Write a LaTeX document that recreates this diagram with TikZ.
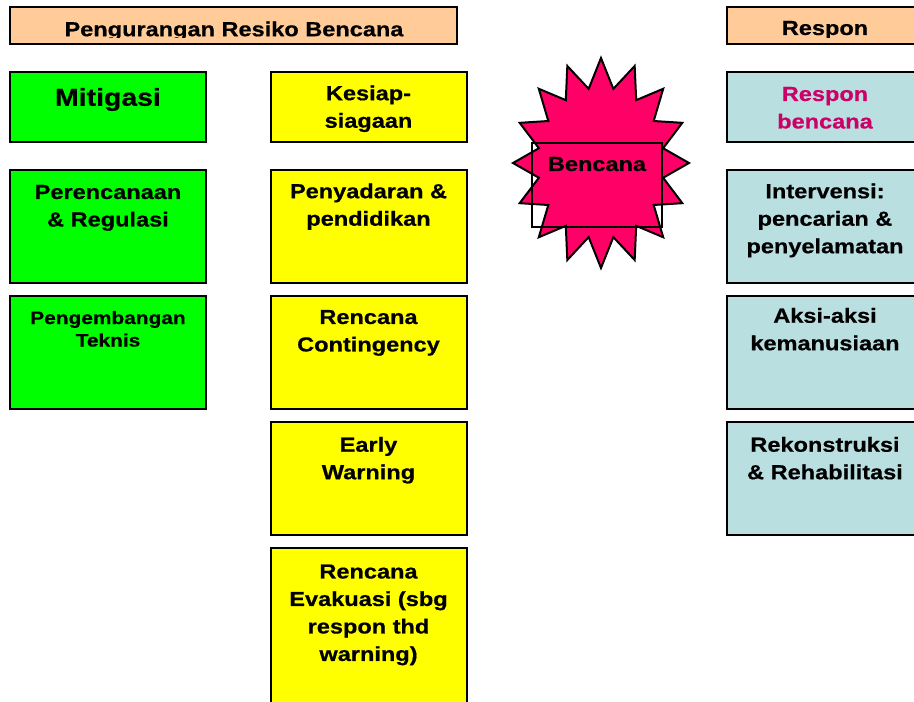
\documentclass[tikz,border=0pt]{standalone}
\usepackage{fontspec}
\setmainfont{Liberation Sans}[FakeStretch=1.16, BoldFeatures={FakeBold=0.6}]
\definecolor{hdrorange}{RGB}{255,204,153}
\definecolor{mitgreen}{RGB}{0,255,0}
\definecolor{prepyellow}{RGB}{255,255,0}
\definecolor{respblue}{RGB}{185,223,225}
\definecolor{bangred}{RGB}{255,0,102}
\definecolor{resptext}{RGB}{204,0,102}
\begin{document}
\begin{tikzpicture}[x=1pt,y=-1pt,
  box/.style={draw=black, line width=2pt, anchor=north west, minimum width=196pt,
    inner sep=0pt, outer sep=0pt},
  hdrbox/.style={box, fill=hdrorange, minimum height=37pt},
  greenbox/.style={box, fill=mitgreen},
  yellowbox/.style={box, fill=prepyellow},
  bluebox/.style={box, fill=respblue},
  lbl/.style={anchor=north, inner sep=0pt, outer sep=0pt, align=center,
    font=\bfseries\fontsize{20.3}{27.5}\selectfont},
  bang/.style={draw=black, line width=2pt, fill=bangred, line join=miter},
]
\useasboundingbox (0,0) rectangle (914,702);
\clip (0,0) rectangle (914,702);

% column headers (text frames clip the descenders)
\node[hdrbox, minimum width=447pt] (hdrL) at (10,7) {};
\node[hdrbox] (hdrR) at (727,7) {};
\begin{scope}
  \clip (10,7) rectangle (457,37.5);
  \node[lbl] (hdrLt) at (234,21.5) {Pengurangan Resiko Bencana};
\end{scope}
\begin{scope}
  \clip (727,7) rectangle (914,37.5);
  \node[lbl] (hdrRt) at (825,21) {Respon};
\end{scope}

% mitigation column
\node[greenbox, minimum height=70pt]  (mit)  at (10,72)  {};
\node[greenbox, minimum height=113pt] (plan) at (10,170) {};
\node[greenbox, minimum height=113pt] (tech) at (10,296) {};
\node[lbl, font=\bfseries\fontsize{24.5}{28}\selectfont] (mitt) at (108,88) {Mitigasi};
\node[lbl] (plant) at (108,185) {Perencanaan\\\& Regulasi};
\node[lbl, font=\bfseries\fontsize{18}{22.5}\selectfont] (techt) at (108,311) {Pengembangan\\Teknis};

% preparedness column
\node[yellowbox, minimum height=70pt]  (prep) at (271,72)  {};
\node[yellowbox, minimum height=113pt] (edu)  at (271,170) {};
\node[yellowbox, minimum height=113pt] (cont) at (271,296) {};
\node[yellowbox, minimum height=113pt] (warn) at (271,422) {};
\node[yellowbox, minimum height=170pt] (evac) at (271,548) {};
\node[lbl] (prept) at (368.5,85.5) {Kesiap-\\siagaan};
\node[lbl] (edut)  at (368.5,183.5) {Penyadaran \&\\pendidikan};
\node[lbl] (contt) at (368.5,310) {Rencana\\Contingency};
\node[lbl] (warnt) at (368.5,437) {Early\\Warning};
\node[lbl] (evact) at (368.5,564.5) {Rencana\\Evakuasi (sbg\\respon thd\\warning)};

% disaster burst
\begin{scope}[shift={(601,163)}, x=88pt, y=-105pt]
  \draw[bang] (90:1) \foreach \k in {0,...,14} {
      -- ({101.25+22.5*\k}:0.72) -- ({112.5+22.5*\k}:1) }
    -- (438.75:0.72) -- cycle;
\end{scope}
\node[box, minimum width=130pt, minimum height=84pt] (dis) at (532,143) {};
\node[lbl] (dist) at (597,157) {Bencana};

% response column
\node[bluebox, minimum height=70pt]  (resp) at (727,72)  {};
\node[bluebox, minimum height=113pt] (sar)  at (727,170) {};
\node[bluebox, minimum height=113pt] (hum)  at (727,296) {};
\node[bluebox, minimum height=113pt] (rec)  at (727,422) {};
\node[lbl, text=resptext] (respt) at (825,87) {Respon\\bencana};
\node[lbl] (sart) at (825,183.5) {Intervensi:\\pencarian \&\\penyelamatan};
\node[lbl] (humt) at (825,308) {Aksi-aksi\\kemanusiaan};
\node[lbl] (rect) at (825,437) {Rekonstruksi\\\& Rehabilitasi};
\end{tikzpicture}
\end{document}
